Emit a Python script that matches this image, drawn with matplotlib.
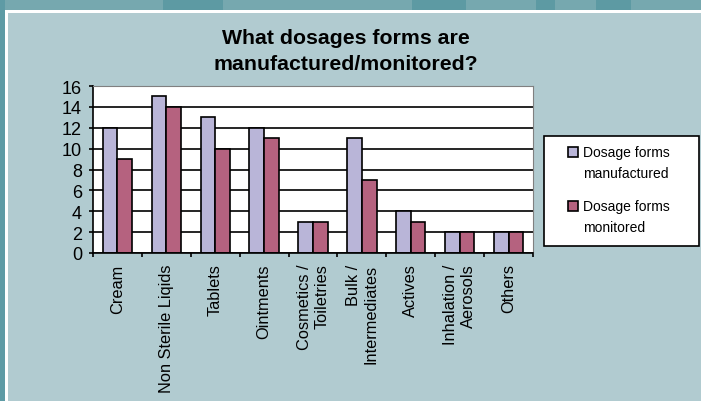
import numpy as np
import matplotlib
matplotlib.use('Agg')
from matplotlib import pyplot as plt
from matplotlib.patches import Rectangle

categories = ['Cream', 'Non Sterile Liqids', 'Tablets', 'Ointments',
              'Cosmetics /\nToiletries', 'Bulk /\nIntermediates', 'Actives',
              'Inhalation /\nAerosols', 'Others']
manufactured = [12, 15, 13, 12, 3, 11, 4, 2, 2]
monitored = [9, 14, 10, 11, 3, 7, 3, 2, 2]
series_names = ['Dosage forms\nmanufactured', 'Dosage forms\nmonitored']
colors = ['#B9B5D8', '#B5627F']

plt.rcParams['font.family'] = ['Liberation Sans', 'DejaVu Sans']

W, H = 701, 402
fig = plt.figure(figsize=(W / 100, H / 100), dpi=100)
fig.patch.set_facecolor('#76A8AF')

def px_rect(x, y, w, h, z=-10, **kw):
    # rectangle given in pixels from the top-left corner
    fig.patches.append(Rectangle((x / W, 1 - (y + h) / H), w / W, h / H,
                                 transform=fig.transFigure, zorder=z, **kw))

# slide background
for x0, x1 in [(163, 223), (412, 466), (536, 555), (596, 631)]:
    px_rect(x0, 0, x1 - x0, 11, facecolor='#5D9AA3', edgecolor='none')
px_rect(0, 0, 5, H, facecolor='#5E9BA5', edgecolor='none')
px_rect(5, 11, W, H, facecolor='white', edgecolor='none')
px_rect(8, 14, W, H, facecolor='#B1CBD0', edgecolor='none')

ax = fig.add_axes([93 / W, 1 - 254 / H, 440 / W, 167 / H])
x = np.arange(len(categories))
bw = 0.3
ax.bar(x - bw / 2, manufactured, bw, color=colors[0], edgecolor='black', linewidth=1.2)
ax.bar(x + bw / 2, monitored, bw, color=colors[1], edgecolor='black', linewidth=1.2)

ax.set_xlim(-0.5, len(categories) - 0.5)
ax.set_ylim(0, 16)
ax.set_yticks(range(0, 17, 2))
ax.yaxis.grid(True, color='black', linewidth=1.2)
ax.set_axisbelow(True)

ax.set_xticks(np.arange(len(categories) + 1) - 0.5)
ax.set_xticklabels([])
ax.set_xticks(x, minor=True)
ax.set_xticklabels(categories, minor=True, rotation=90, fontsize=11.8,
                   va='top', ha='center', multialignment='right')
ax.tick_params(axis='x', which='major', direction='out', length=3, width=1.2)
ax.tick_params(axis='x', which='minor', length=0, pad=7.5)
ax.tick_params(axis='y', direction='out', length=3, width=1.2, pad=5, labelsize=13)

for s in ['top', 'right']:
    ax.spines[s].set_color('#808080')
for s in ['left', 'bottom']:
    ax.spines[s].set_color('black')
    ax.spines[s].set_linewidth(1.2)

fig.text(346 / W, 1 - 29 / H, 'What dosages forms are\nmanufactured/monitored?',
         ha='center', va='top', fontsize=15.3, fontweight='bold', linespacing=1.45)

# legend box
px_rect(544, 137, 155, 110, z=5, facecolor='white', edgecolor='black', linewidth=1.2)
for i, (name, c) in enumerate(zip(series_names, colors)):
    top = 148 + i * 54
    px_rect(568, top, 10, 10, z=6, facecolor=c, edgecolor='black', linewidth=1.2)
    fig.text(583 / W, 1 - (top - 2) / H, name, ha='left', va='top',
             fontsize=10, linespacing=1.65, zorder=7)

fig.savefig('out.png', dpi=100, facecolor=fig.get_facecolor())
